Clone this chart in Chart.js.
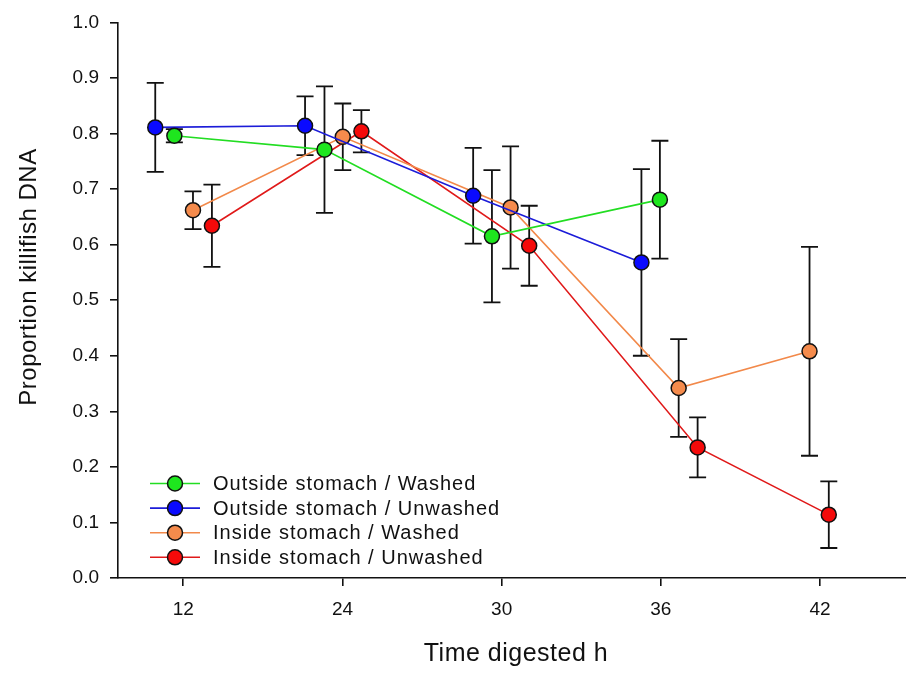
<!DOCTYPE html>
<html>
<head>
<meta charset="utf-8">
<script src="https://cdn.jsdelivr.net/npm/chart.js@4.4.1/dist/chart.umd.min.js"></script>
<style>
  body { margin: 0; background: #fff; }
  canvas { display: block; }
</style>
</head>
<body>
<canvas id="chart" width="906" height="673"></canvas>
<script>
// categories on the x axis (hours digested)
const categories = ["12", "24", "30", "36", "42"];
const yTicks = [0, 0.1, 0.2, 0.3, 0.4, 0.5, 0.6, 0.7, 0.8, 0.9, 1.0];

// x positions are category index (1..5) with the small dodge used in the figure
const outWashedX = [0.944, 1.887, 2.939, 3.994];
const outWashed = [0.796, 0.771, 0.615, 0.681];
const outWashedErr = [0.012, 0.114, 0.119, 0.106];

const outUnwashedX = [0.824, 1.765, 2.821, 3.878];
const outUnwashed = [0.811, 0.814, 0.688, 0.568];
const outUnwashedErr = [0.080, 0.053, 0.086, 0.168];

const inWashedX = [1.061, 2.002, 3.056, 4.112, 4.934];
const inWashed = [0.662, 0.794, 0.667, 0.342, 0.408];
const inWashedErr = [0.034, 0.060, 0.110, 0.088, 0.188];

const inUnwashedX = [1.180, 2.119, 3.173, 4.231, 5.055];
const inUnwashed = [0.634, 0.804, 0.598, 0.235, 0.114];
const inUnwashedErr = [0.074, 0.038, 0.072, 0.054, 0.060];

const FONT = "'Liberation Sans', Arial, sans-serif";

function makeSet(label, xs, ys, errs, lineColor, fillColor) {
  return {
    label: label,
    data: xs.map((x, i) => ({ x: x, y: ys[i] })),
    errors: errs,
    showLine: true,
    borderColor: lineColor,
    borderWidth: 1.6,
    pointBackgroundColor: fillColor,
    pointBorderColor: "#111",
    pointBorderWidth: 1.5,
    pointRadius: 7.5,
    tension: 0,
  };
}

const datasets = [
  makeSet("Outside stomach / Washed", outWashedX, outWashed, outWashedErr, "#22dd22", "#1ee61e"),
  makeSet("Outside stomach / Unwashed", outUnwashedX, outUnwashed, outUnwashedErr, "#1c1cd8", "#0a0aff"),
  makeSet("Inside stomach / Washed", inWashedX, inWashed, inWashedErr, "#f2894a", "#f58b4c"),
  makeSet("Inside stomach / Unwashed", inUnwashedX, inUnwashed, inUnwashedErr, "#e01a1a", "#f50a0a"),
];

// error bars, drawn under the lines and markers
const errorBars = {
  id: "errorBars",
  beforeDatasetsDraw(chart) {
    const ctx = chart.ctx;
    const yScale = chart.scales.y;
    ctx.save();
    ctx.strokeStyle = "#111";
    ctx.lineWidth = 1.8;
    chart.data.datasets.forEach((ds, di) => {
      const meta = chart.getDatasetMeta(di);
      ds.data.forEach((p, i) => {
        const x = meta.data[i].x;
        const top = yScale.getPixelForValue(p.y + ds.errors[i]);
        const bot = yScale.getPixelForValue(p.y - ds.errors[i]);
        ctx.beginPath();
        ctx.moveTo(x, top); ctx.lineTo(x, bot);
        ctx.moveTo(x - 8.5, top); ctx.lineTo(x + 8.5, top);
        ctx.moveTo(x - 8.5, bot); ctx.lineTo(x + 8.5, bot);
        ctx.stroke();
      });
    });
    ctx.restore();
  },
};

// legend inside the plot + axis titles
const extras = {
  id: "extras",
  afterDraw(chart) {
    const ctx = chart.ctx;
    ctx.save();
    ctx.letterSpacing = "1px";
    ctx.font = "20px " + FONT;
    ctx.textBaseline = "middle";
    ctx.fillStyle = "#111";
    chart.data.datasets.forEach((ds, i) => {
      const y = 483.5 + i * 24.6;
      ctx.strokeStyle = ds.borderColor;
      ctx.lineWidth = 1.6;
      ctx.beginPath();
      ctx.moveTo(150, y); ctx.lineTo(200, y);
      ctx.stroke();
      ctx.beginPath();
      ctx.arc(175, y, 7.5, 0, Math.PI * 2);
      ctx.fillStyle = ds.pointBackgroundColor;
      ctx.fill();
      ctx.strokeStyle = "#111";
      ctx.lineWidth = 1.5;
      ctx.stroke();
      ctx.fillStyle = "#111";
      ctx.fillText(ds.label, 213, y + 1);
    });

    ctx.letterSpacing = "0.5px";
    ctx.font = "25px " + FONT;
    ctx.textAlign = "center";
    ctx.textBaseline = "alphabetic";
    ctx.fillText("Time digested h", 516, 661);

    ctx.font = "24px " + FONT;
    ctx.translate(36, 277);
    ctx.rotate(-Math.PI / 2);
    ctx.fillText("Proportion killifish DNA", 0, 0);
    ctx.restore();
  },
};

new Chart(document.getElementById("chart"), {
  type: "scatter",
  data: { datasets: datasets },
  plugins: [errorBars, extras],
  options: {
    responsive: false,
    animation: false,
    devicePixelRatio: 1,
    layout: { autoPadding: false, padding: { top: 20, left: 0, right: 0, bottom: 0 } },
    plugins: { legend: { display: false }, tooltip: { enabled: false } },
    scales: {
      x: {
        type: "linear",
        min: 0.59,
        max: 5.54,
        afterFit: (s) => { s.height = 95; s.paddingLeft = 0; s.paddingRight = 0; },
        afterBuildTicks: (s) => { s.ticks = categories.map((c, i) => ({ value: i + 1 })); },
        ticks: {
          color: "#111",
          font: { family: FONT, size: 19 },
          padding: 12,
          maxRotation: 0,
          callback: (v) => categories[v - 1],
        },
        grid: { drawOnChartArea: false, drawTicks: true, tickLength: 8, color: "#111", lineWidth: 1.6 },
        border: { display: true, color: "#111", width: 1.6 },
      },
      y: {
        min: 0,
        max: 1,
        afterFit: (s) => { s.width = 118; },
        afterBuildTicks: (s) => { s.ticks = yTicks.map((v) => ({ value: v })); },
        ticks: {
          color: "#111",
          font: { family: FONT, size: 19 },
          padding: 11,
          callback: (v) => v.toFixed(1),
        },
        grid: { drawOnChartArea: false, drawTicks: true, tickLength: 8, color: "#111", lineWidth: 1.6 },
        border: { display: true, color: "#111", width: 1.6 },
      },
    },
  },
});
</script>
</body>
</html>
